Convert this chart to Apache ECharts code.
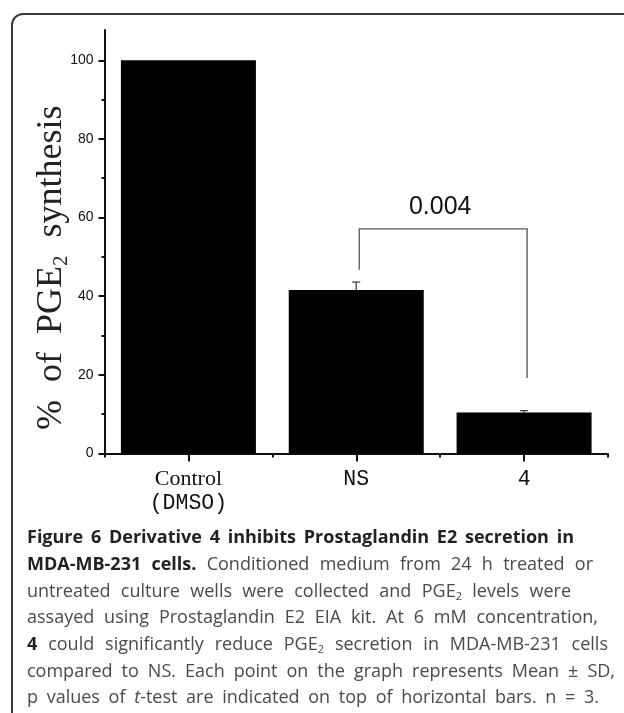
<!DOCTYPE html>
<html>
<head>
<meta charset="utf-8">
<style>
	html,body{margin:0;padding:0;background:#fff;}
	#page{position:relative;width:624px;height:713px;overflow:hidden;}
	#frame{position:absolute;left:11px;top:13px;width:640px;height:760px;border:2px solid #3a3a3a;border-radius:12px;box-sizing:border-box;}
	#main{position:absolute;left:0;top:0;width:624px;height:713px;}
	.cap{position:absolute;left:27px;font:18px/26px "Open Sans",sans-serif;color:#4a4a4a;text-align:justify;text-align-last:justify;white-space:nowrap;}
	.cap b{color:#222;}
	.cap sub{font-size:11px;line-height:0;vertical-align:-3px;}
</style>
</head>
<body>
<div id="page">
	<div id="frame"></div>
	<div id="main"></div>
	<div id="caption">
		<div class="cap" style="top:523px;width:547px;"><b>Figure 6 Derivative 4 inhibits Prostaglandin E2 secretion in</b></div>
		<div class="cap" style="top:550px;width:566px;"><b>MDA-MB-231 cells.</b> Conditioned medium from 24 h treated or</div>
		<div class="cap" style="top:577px;width:544px;">untreated culture wells were collected and PGE<sub>2</sub> levels were</div>
		<div class="cap" style="top:603px;width:571px;">assayed using Prostaglandin E2 EIA kit. At 6 mM concentration,</div>
		<div class="cap" style="top:630px;width:581px;"><b>4</b> could significantly reduce PGE<sub>2</sub> secretion in MDA-MB-231 cells</div>
		<div class="cap" style="top:657px;width:588px;">compared to NS. Each point on the graph represents Mean ± SD,</div>
		<div class="cap" style="top:683px;width:572px;">p values of <i>t</i>-test are indicated on top of horizontal bars. n = 3.</div>
	</div>
</div>
<script src="https://cdn.jsdelivr.net/npm/echarts@6/dist/echarts.min.js"></script>
<script type="text/javascript">
	var categories = ["Control","NS","4"];
	var values = [100,41.6,10.4];
	var errTop = [null,43.6,10.9];
	var majorTicks = [0,20,40,60,80,100];
	var minorTicks = [10,30,50,70,90];
	var axisMax = 107.7;

	//显著性括号：[类别序号,数值]
	var bracket = [[1,46.7],[1,57.1],[2,57.1],[2,19.2]];
	var pLabel = "0.004";

	var myChart = echarts.init(document.getElementById("main"),null,{renderer:"canvas"});

	var option = {
		animation:false,
		grid:{left:104.5,right:16,top:30,bottom:259.5},
		xAxis:[
			{
				type:"category",data:categories,position:"bottom",
				axisLine:{lineStyle:{color:"#111",width:2}},
				axisTick:{show:true,alignWithLabel:true,length:8,lineStyle:{color:"#111",width:2}},
				axisLabel:{
					margin:14,interval:0,color:"#111",
					formatter:function(v){
						if(v === "Control")return "{s|Control}\n{m|(DMSO)}";
						return "{m|"+v+"}";
					},
					rich:{
						s:{fontFamily:"Liberation Serif",fontSize:22,lineHeight:24,color:"#111"},
						m:{fontFamily:"Liberation Mono",fontSize:21.5,lineHeight:24,color:"#111"}
					}
				}
			},
			{
				type:"category",data:categories,position:"bottom",
				axisLine:{show:false},
				axisTick:{show:true,length:4,lineStyle:{color:"#111",width:2}},
				axisLabel:{show:false}
			}
		],
		yAxis:[
			{
				type:"value",min:0,max:axisMax,position:"left",
				axisLine:{show:true,lineStyle:{color:"#111",width:2}},
				axisTick:{show:true,length:6,customValues:majorTicks,lineStyle:{color:"#111",width:2}},
				axisLabel:{customValues:majorTicks,margin:11,color:"#111",fontFamily:"Liberation Sans",fontSize:14},
				splitLine:{show:false},
				name:"{a|%  of  PGE}{b|2}{a|  synthesis}",
				nameLocation:"middle",nameRotate:90,nameGap:33,nameMoveOverlap:false,
				nameTextStyle:{
					padding:[0,52,0,0],
					rich:{
						a:{fontFamily:"Liberation Serif",fontSize:36,color:"#222",lineHeight:40},
						b:{fontFamily:"Liberation Serif",fontSize:21,color:"#222",lineHeight:40,verticalAlign:"bottom"}
					}
				}
			},
			{
				type:"value",min:0,max:axisMax,position:"left",
				axisLine:{show:false},
				axisTick:{show:true,length:3,customValues:minorTicks,lineStyle:{color:"#111",width:2}},
				axisLabel:{show:false},
				splitLine:{show:false}
			}
		],
		series:[
			{
				type:"bar",data:values,barWidth:135,
				itemStyle:{color:"#000"}
			},
			{
				//误差棒
				type:"custom",
				data:errTop.map(function(el,index){return [index,values[index],el];}),
				encode:{x:0,y:2},
				renderItem:function(params,api){
					if(api.value(2) === null || isNaN(api.value(2)))return;
					var a = api.coord([api.value(0),api.value(1)]);
					var b = api.coord([api.value(0),api.value(2)]);
					return {type:"group",children:[
						{type:"line",shape:{x1:a[0],y1:a[1],x2:b[0],y2:b[1]},style:{stroke:"#333",lineWidth:1.2}},
						{type:"line",shape:{x1:b[0]-4,y1:b[1],x2:b[0]+4,y2:b[1]},style:{stroke:"#333",lineWidth:1.2}}
					]};
				}
			},
			{
				//括号和p值
				type:"custom",
				data:[0],
				renderItem:function(params,api){
					var pts = bracket.map(function(el){
						var p = api.coord(el);
						return [p[0]+3,p[1]];
					});
					var mid = [(pts[1][0]+pts[2][0])/2,pts[1][1]];
					return {type:"group",children:[
						{type:"polyline",shape:{points:pts},style:{stroke:"#555",lineWidth:1.3,fill:null}},
						{type:"text",x:mid[0]-3,y:mid[1]-22,style:{text:pLabel,fill:"#111",font:"25px Liberation Sans",textAlign:"center",textVerticalAlign:"middle"}}
					]};
				}
			}
		]
	};
	myChart.setOption(option);
</script>
</body>
</html>
